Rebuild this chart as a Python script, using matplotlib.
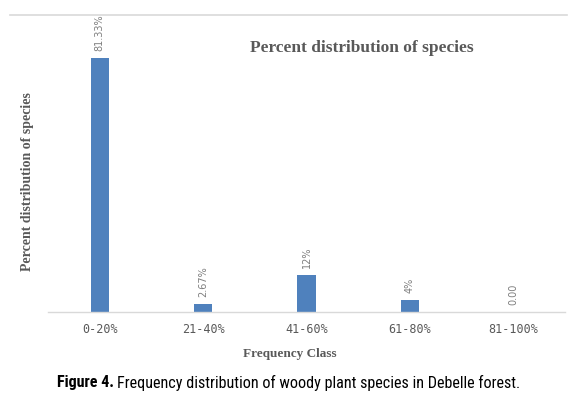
import numpy as np
import matplotlib.pyplot as plt

classes = ["0-20%", "21-40%", "41-60%", "61-80%", "81-100%"]
percents = [81.33, 2.67, 12, 4, 0]
value_labels = ["81.33%", "2.67%", "12%", "4%", "0.00"]

W, H = 570, 398
fig = plt.figure(figsize=(W / 100, H / 100), dpi=100)
ax = fig.add_axes([48 / W, 86 / H, 517 / W, 297 / H])

x = np.arange(len(classes))
ax.bar(x, percents, width=0.175, color="#4f81bd", zorder=2)
ax.set_xlim(-0.5, len(classes) - 0.5)
ax.set_ylim(0, 95.2)

for xi, v, lab in zip(x, percents, value_labels):
    ax.annotate(lab, (xi, v), xytext=(0, 5), textcoords="offset points",
                rotation=90, ha="center", va="bottom", fontsize=7,
                color="#7f7f7f", family="DejaVu Sans")

ax.set_xticks(x)
ax.set_xticklabels(classes, fontsize=8.5, color="#595959", family="DejaVu Sans Mono")
ax.tick_params(axis="x", length=0, pad=8)
ax.set_yticks([])
for side in ["top", "left", "right"]:
    ax.spines[side].set_visible(False)
ax.spines["bottom"].set_color("#d9d9d9")
ax.spines["bottom"].set_linewidth(1.0)

# chart border fragment at the top
fig.add_artist(plt.Line2D([10 / W, 567 / W], [1 - 15 / H, 1 - 15 / H],
                          color="#d9d9d9", lw=1.2))

serif = "Liberation Serif"
fig.text(362 / W, 1 - 48 / H, "Percent distribution of species", ha="center",
         va="center", fontsize=12.5, fontweight="bold", color="#595959", family=serif)
fig.text(28 / W, 1 - 182 / H, "Percent distribution of species", rotation=90,
         ha="center", va="center", fontsize=10, fontweight="bold",
         color="#595959", family=serif)
fig.text(290 / W, 1 - 354 / H, "Frequency Class", ha="center", va="center",
         fontsize=9.5, fontweight="bold", color="#595959", family=serif)

# caption: bold "Figure 4." followed by regular text, fitted to the reference width
cap_font = ["Liberation Sans Narrow", "Roboto Condensed", "Liberation Sans"]
cap_left, cap_right, cap_y = 57, 521, 1 - 383 / H
size = 12
for _ in range(20):
    t1 = fig.text(cap_left / W, cap_y, "Figure 4.", ha="left", va="center",
                  fontsize=size, fontweight="bold", family=cap_font)
    fig.canvas.draw()
    bb = t1.get_window_extent()
    t2 = fig.text((bb.x1 + 3) / W, cap_y,
                  "Frequency distribution of woody plant species in Debelle forest.",
                  ha="left", va="center", fontsize=size, family=cap_font)
    fig.canvas.draw()
    right = t2.get_window_extent().x1
    if right <= cap_right + 1:
        break
    t1.remove()
    t2.remove()
    size *= (cap_right - cap_left) / (right - cap_left)

fig.savefig("out.png", dpi=100)
